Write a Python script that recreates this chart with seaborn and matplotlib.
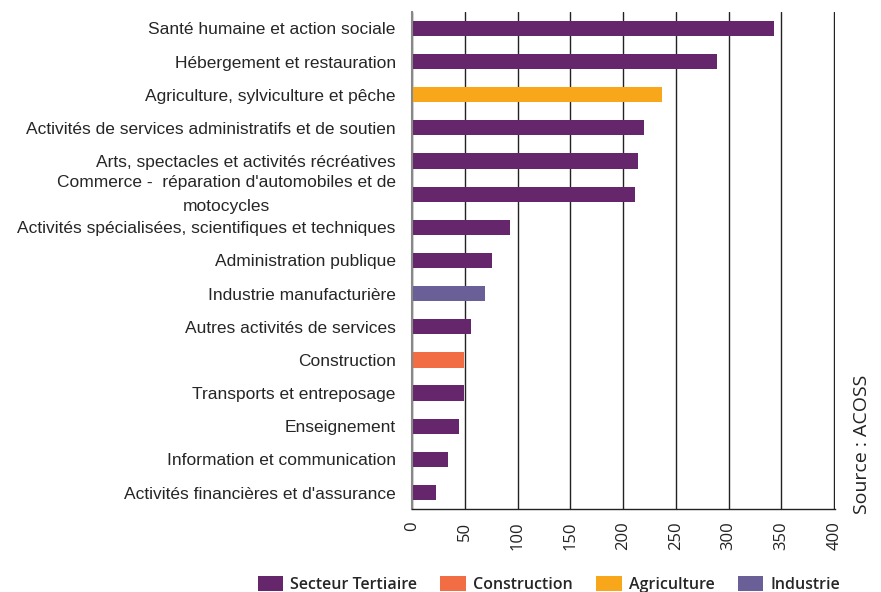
import matplotlib
matplotlib.use("Agg")
import matplotlib.pyplot as plt
import seaborn as sns
import pandas as pd
import numpy as np

# ------------------------------------------
# Data
# ------------------------------------------
activites = [
    "Santé humaine et action sociale",
    "Hébergement et restauration",
    "Agriculture, sylviculture et pêche",
    "Activités de services administratifs et de soutien",
    "Arts, spectacles et activités récréatives",
    "Commerce -  réparation d'automobiles et de\nmotocycles",
    "Activités spécialisées, scientifiques et techniques",
    "Administration publique",
    "Industrie manufacturière",
    "Autres activités de services",
    "Construction",
    "Transports et entreposage",
    "Enseignement",
    "Information et communication",
    "Activités financières et d'assurance",
]
valeurs = [343, 289, 237, 220, 214, 211, 93, 76, 69, 56, 49, 49, 44, 34, 22]
secteurs = [
    "Secteur Tertiaire", "Secteur Tertiaire", "Agriculture", "Secteur Tertiaire",
    "Secteur Tertiaire", "Secteur Tertiaire", "Secteur Tertiaire", "Secteur Tertiaire",
    "Industrie", "Secteur Tertiaire", "Construction", "Secteur Tertiaire",
    "Secteur Tertiaire", "Secteur Tertiaire", "Secteur Tertiaire",
]
ordre_secteurs = ["Secteur Tertiaire", "Construction", "Agriculture", "Industrie"]
couleurs = ["#66266B", "#F26C44", "#F9A71A", "#6A5F96"]
x_ticks = [0, 50, 100, 150, 200, 250, 300, 350, 400]

df = pd.DataFrame({"activite": activites, "valeur": valeurs, "secteur": secteurs})

# ------------------------------------------
# Figure
# ------------------------------------------
sns.set_style("white")
plt.rcParams["font.family"] = ["Liberation Sans", "DejaVu Sans"]

fig = plt.figure(figsize=(8.81, 5.92), dpi=100)
ax = fig.add_axes([0.468, 0.14, 0.480, 0.84])

sns.barplot(
    data=df, x="valeur", y="activite", hue="secteur",
    hue_order=ordre_secteurs, palette=couleurs, saturation=1,
    dodge=False, width=0.46, orient="h", ax=ax, legend=True, linewidth=0,
)

ax.set_xlim(0, 401)
ax.set_ylim(len(activites) - 0.5, -0.5)
ax.set_xticks(x_ticks)
ax.set_xticklabels([str(t) for t in x_ticks], rotation=90, fontsize=12,
                   family="Open Sans", color="#222222")
ax.set_xlabel("")
ax.set_ylabel("")

# vertical grid lines
ax.grid(axis="x", color="#222222", linewidth=1)
ax.set_axisbelow(True)

# y labels at bar centres, tick marks at category boundaries
ax.tick_params(axis="y", which="major", length=0, pad=12, labelsize=12.5)
for lab in ax.get_yticklabels():
    if "\n" in lab.get_text():
        lab.set_multialignment("center")
        lab.set_linespacing(1.75)
        lab.set_verticalalignment("center")
ax.set_yticks(np.arange(-0.5, len(activites), 1), minor=True)
ax.tick_params(axis="y", which="minor", length=5, width=1, color="#333333", direction="out")
ax.tick_params(axis="x", length=5, width=1, color="#333333", direction="out", pad=4)

for s in ["top", "right"]:
    ax.spines[s].set_visible(False)
ax.spines["left"].set_color("#888888")
ax.spines["left"].set_linewidth(1.5)
ax.spines["bottom"].set_color("#222222")
ax.spines["bottom"].set_linewidth(1)

# legend at the bottom
handles, labels = ax.get_legend_handles_labels()
ax.get_legend().remove()
fig.legend(
    handles, labels, loc="lower center", bbox_to_anchor=(0.623, -0.026),
    ncol=4, frameon=False, handlelength=1.6, handleheight=1.1,
    columnspacing=1.45, handletextpad=0.45,
    prop={"family": "Open Sans", "weight": "semibold", "size": 11.5},
)

# source
fig.text(0.978, 0.25, "Source : ACOSS", rotation=90, ha="center", va="center",
         fontsize=14, family="Open Sans", color="#222222")

fig.savefig("out.png", dpi=100)
